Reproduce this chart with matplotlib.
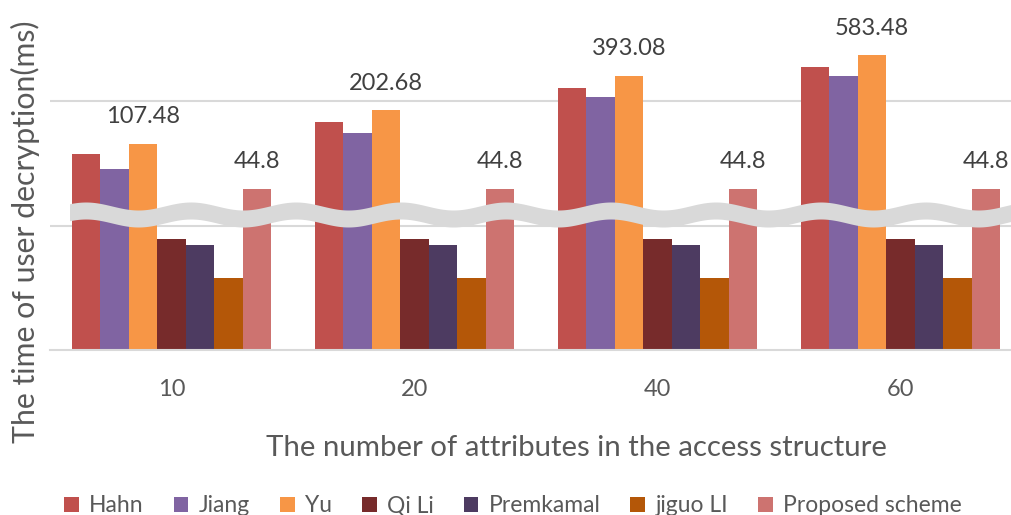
"""
Decryption time vs. number of attributes — grouped bars with a broken y axis.
"""

import numpy as np
import matplotlib
matplotlib.use("Agg")
import matplotlib.pyplot as plt
from matplotlib.patches import Polygon

# ── data ───────────────────────────────────────────────────────────────────────
CATEGORIES = ["10", "20", "40", "60"]
SCHEMES = ["Hahn", "Jiang", "Yu", "Qi Li", "Premkamal", "jiguo LI", "Proposed scheme"]

HAHN = [92.7, 169.3, 328.1, 473.1]
JIANG = [72.2, 138.0, 274.9, 395.0]
YU = [107.48, 202.68, 393.08, 583.48]
QI_LI = [32.3, 32.3, 32.3, 32.3]
PREMKAMAL = [30.6, 30.6, 30.6, 30.6]
JIGUO_LI = [21.1, 21.1, 21.1, 21.1]
PROPOSED = [44.8, 44.8, 44.8, 44.8]

SERIES = [HAHN, JIANG, YU, QI_LI, PREMKAMAL, JIGUO_LI, PROPOSED]
LABELLED = {"Yu": YU, "Proposed scheme": PROPOSED}

COLORS = ["#C0504D", "#8064A2", "#F79646", "#772B2B", "#4D3B61", "#B45708", "#CD7370"]

# ── broken axis: piecewise-linear y scale (value -> pixel height) ──────────────
SCALE_VALUES = np.array([-1000, 0, 40, 44.8, 107.48, 202.68, 393.08, 583.48, 5000])
SCALE_HEIGHTS = np.array([-3425, 0, 137, 161.3, 206.3, 239.7, 274, 294.7, 774.9])


def _fwd(v):
    return np.interp(v, SCALE_VALUES, SCALE_HEIGHTS)


def _inv(h):
    return np.interp(h, SCALE_HEIGHTS, SCALE_VALUES)


GRID_HEIGHTS = [124.5, 249.0]
AX_HEIGHT_PX = 350.0
FONT = ["Lato", "DejaVu Sans"]

plt.rcParams["font.family"] = FONT

fig = plt.figure(figsize=(10.11, 5.15), dpi=100)
ax = fig.add_axes([49.8 / 1011, 165 / 515, 972 / 1011, 350 / 515])
ax.set_yscale("function", functions=(_fwd, _inv))

n = len(SERIES)
width = 28.5 / 243
x = np.arange(len(CATEGORIES))
for j, (name, vals, col) in enumerate(zip(SCHEMES, SERIES, COLORS)):
    xs = x + (j - (n - 1) / 2) * width
    ax.bar(xs, vals, width=width, color=col, label=name, zorder=2,
           edgecolor="none")
    if name in LABELLED:
        for xi, v in zip(xs, vals):
            ax.annotate(f"{v:g}", (xi, v), xytext=(0, 19.5),
                        textcoords="offset points", ha="center", va="center",
                        fontsize=17, color="#404040", zorder=4)

ax.set_xlim(-0.5, len(CATEGORIES) - 0.5)
ax.set_ylim(0, _inv(AX_HEIGHT_PX))
ax.set_yticks(_inv(np.array(GRID_HEIGHTS)))
ax.set_yticklabels([])
ax.yaxis.set_minor_locator(matplotlib.ticker.NullLocator())
ax.tick_params(axis="y", length=0)
ax.grid(axis="y", color="#D9D9D9", linewidth=1.5, zorder=0)
ax.set_axisbelow(True)

ax.set_xticks(x)
ax.set_xticklabels(CATEGORIES, fontsize=17, color="#595959")
ax.tick_params(axis="x", length=0, pad=21)

for s in ["top", "right", "left"]:
    ax.spines[s].set_visible(False)
ax.spines["bottom"].set_color("#D9D9D9")
ax.spines["bottom"].set_linewidth(1.5)

# wavy break band (axes coords)
bx = np.linspace(70, 1022, 600)
wave = 4 * np.sin(2 * np.pi * (bx - 60) / 105)
yc = 135 + wave
top = (yc + 8.5) / AX_HEIGHT_PX
bot = (yc - 8.5) / AX_HEIGHT_PX
bxa = (bx - 49.8) / 972
pts = np.concatenate([np.column_stack([bxa, top]),
                      np.column_stack([bxa[::-1], bot[::-1]])])
ax.add_patch(Polygon(pts, closed=True, transform=ax.transAxes,
                     facecolor="#D9D9D9", edgecolor="none", zorder=3,
                     clip_on=False))

fig.text(576 / 1011, 1 - 448 / 515, "The number of attributes in the access structure",
         ha="center", va="center", fontsize=21.2, color="#595959")
fig.text(25 / 1011, 1 - 232 / 515, "The time of user decryption(ms)",
         ha="center", va="center", rotation=90, fontsize=21.8, color="#595959")

fig.legend(loc="center", bbox_to_anchor=(513 / 1011, 1 - 506 / 515), ncol=7,
           frameon=False, fontsize=16.5, handlelength=0.65, handleheight=0.65,
           handletextpad=0.45, columnspacing=1.3, labelcolor="#595959")

fig.savefig("out.png", dpi=100)
